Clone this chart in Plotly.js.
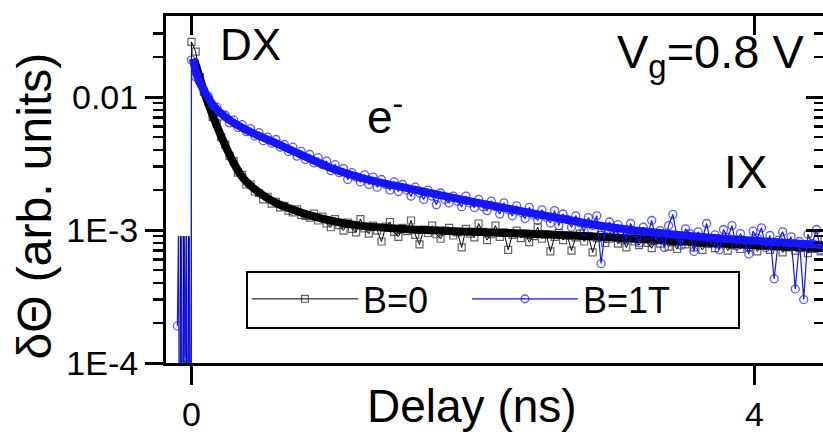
<!DOCTYPE html>
<html>
<head>
<meta charset="utf-8">
<script src="https://cdn.plot.ly/plotly-3.0.1.min.js"></script>
<style>
html,body{margin:0;padding:0;overflow:hidden;background:#fff;width:823px;height:439px;}
#chart{width:840px;height:439px;}
</style>
</head>
<body>
<div id="chart"></div>
<script>
// ---------- data (delay in ns, signal in arb. units) ----------
const delay = [
0,0.03,0.06,0.09,0.12,0.15,0.18,0.21,0.24,0.27,
0.3,0.33,0.36,0.39,0.42,0.45,0.48,0.51,0.54,0.57,
0.6,0.63,0.66,0.69,0.72,0.75,0.78,0.81,0.84,0.87,
0.9,0.93,0.96,0.99,1.02,1.05,1.08,1.11,1.14,1.17,
1.2,1.23,1.26,1.29,1.32,1.35,1.38,1.41,1.44,1.47,
1.5,1.53,1.56,1.59,1.62,1.65,1.68,1.71,1.74,1.77,
1.8,1.83,1.86,1.89,1.92,1.95,1.98,2.01,2.04,2.07,
2.1,2.13,2.16,2.19,2.22,2.25,2.28,2.31,2.34,2.37,
2.4,2.43,2.46,2.49,2.52,2.55,2.58,2.61,2.64,2.67,
2.7,2.73,2.76,2.79,2.82,2.85,2.88,2.91,2.94,2.97,
3.0,3.03,3.06,3.09,3.12,3.15,3.18,3.21,3.24,3.27,
3.3,3.33,3.36,3.39,3.42,3.45,3.48,3.51,3.54,3.57,
3.6,3.63,3.66,3.69,3.72,3.75,3.78,3.81,3.84,3.87,
3.9,3.93,3.96,3.99,4.02,4.05,4.08,4.11,4.14,4.17,
4.2,4.23,4.26,4.29,4.32,4.35,4.38,4.41,4.44,4.47,
4.5];

const signalB0 = [
0.026,0.022,0.0142,0.0110,0.0092,0.0071,0.0063,0.0050,0.0044,0.0036,
0.0033,0.0027,0.0026,0.0022,0.0022,0.00195,0.0019,0.0017,0.00178,0.00158,
0.00163,0.00148,0.00152,0.0014,0.00136,0.00143,0.0013,0.00128,0.00124,0.00133,
0.00118,0.00126,0.00112,0.00105,0.00121,0.00109,0.00099,0.00114,0.00102,0.00096,
0.00121,0.00103,0.00094,0.00108,0.00099,0.00082,0.00106,0.00115,0.00097,0.00089,
0.00104,0.00098,0.00118,0.00092,0.00078,0.00101,0.00095,0.00108,0.00093,0.00086,
0.00099,0.00104,0.00091,0.00096,0.00074,0.00102,0.00094,0.00088,0.00112,0.00097,
0.00084,0.00093,0.00108,0.00089,0.00096,0.00071,0.00092,0.00099,0.00087,0.00094,
0.00081,0.00090,0.00105,0.00086,0.00093,0.00069,0.00089,0.00095,0.00084,0.00091,
0.00070,0.00088,0.00094,0.00082,0.00090,0.00068,0.00087,0.00092,0.00080,0.00086,
0.00091,0.00079,0.00085,0.00074,0.00088,0.00082,0.00077,0.00086,0.00080,0.00073,
0.00084,0.00079,0.00087,0.00075,0.00081,0.00072,0.00083,0.00078,0.00085,0.00074,
0.00080,0.00071,0.00079,0.00084,0.00073,0.00078,0.00082,0.00070,0.00077,0.00081,
0.00072,0.00079,0.00074,0.00080,0.00069,0.00076,0.00079,0.00071,0.00075,0.00078,
0.00068,0.00074,0.00077,0.00070,0.00073,0.00076,0.00067,0.00072,0.00075,0.00069,
0.00073];

const signalB1 = [
0.0190,0.0142,0.0131,0.0108,0.0101,0.0086,0.0084,0.0072,0.0073,0.0064,
0.0067,0.0059,0.0062,0.0055,0.0058,0.0051,0.0054,0.0047,0.0050,0.0045,
0.0048,0.0042,0.0044,0.0039,0.0042,0.0036,0.0039,0.0034,0.0037,0.0032,
0.0035,0.0031,0.0033,0.0028,0.0031,0.0027,0.0029,0.0024,0.0027,0.0025,
0.0023,0.0026,0.0022,0.0025,0.0021,0.0024,0.0022,0.0020,0.0023,0.00195,
0.0022,0.0020,0.0018,0.0021,0.0019,0.0017,0.0020,0.0018,0.00155,0.0019,
0.0017,0.0016,0.0018,0.00165,0.0015,0.0018,0.0016,0.00148,0.0017,0.0015,
0.0014,0.00165,0.0015,0.00132,0.0016,0.00142,0.00128,0.00152,0.00136,0.00122,
0.00148,0.0013,0.00118,0.00142,0.00125,0.00113,0.0014,0.00108,0.00132,0.0012,
0.00105,0.00128,0.00113,0.00098,0.00124,0.00108,0.00128,0.00056,0.00102,0.00115,
0.00093,0.0011,0.00098,0.00086,0.00112,0.00095,0.0008,0.00105,0.00091,0.00118,
0.00084,0.00099,0.00074,0.00108,0.00131,0.00089,0.00077,0.00102,0.00094,0.00069,
0.00097,0.00086,0.00112,0.00079,0.00092,0.00071,0.00101,0.00088,0.00108,0.00076,
0.00094,0.00083,0.00066,0.00098,0.00087,0.00104,0.00074,0.00091,0.00043,0.00084,
0.00097,0.00078,0.00089,0.00036,0.00082,0.00030,0.00093,0.00079,0.00101,0.00071,
0.00085];

// negative-delay points (values far below 1E-4 fall off the axis)
const preDelayB0 = [-0.086,-0.079,-0.065,-0.058,-0.044,-0.037,-0.029,-0.022,-0.008,-0.002];
const preSignalB0 = [1e-6,9e-4,1e-6,9e-4,1e-6,9e-4,1e-6,9e-4,1e-6,1e-6];
const preDelayB1 = [-0.100,-0.093,-0.079,-0.072,-0.058,-0.051,-0.043,-0.036,-0.022,-0.015,-0.004];
const preSignalB1 = [1.9e-4,9e-4,1e-6,9e-4,1e-6,9e-4,1.1e-4,9e-4,1e-6,9e-4,1e-6];

// fit curves
const fitDelayB0 = [0.02,0.05,0.1,0.15,0.2,0.25,0.3,0.35,0.4,0.5,0.6,0.7,0.8,1.0,1.2,1.5,2.0,2.5,3.0,3.5,4.0,4.5];
const fitB0 = [0.019,0.0150,0.0102,0.0073,0.0054,0.0041,0.0032,0.0026,0.00225,0.00185,0.0016,0.00145,0.00133,0.00117,0.00108,0.00102,0.00097,0.00093,0.00088,0.00082,0.00077,0.00073];
const fitDelayB1 = [0.01,0.05,0.1,0.15,0.2,0.3,0.4,0.5,0.6,0.8,1.0,1.25,1.5,2.0,2.5,3.0,3.5,4.0,4.5];
const fitB1 = [0.0195,0.0135,0.0107,0.0088,0.0077,0.0064,0.0056,0.0050,0.0045,0.0036,0.0029,0.0024,0.0021,0.00163,0.00129,0.00104,0.00091,0.00083,0.00077];

const seriesNames = ['B=0','B=1T'];
const yTickVals = [1e-4,1e-3,1e-2];
const yTickText = ['1E-4','1E-3','0.01'];
const yMinorVals = [2e-4,3e-4,4e-4,5e-4,6e-4,7e-4,8e-4,9e-4,2e-3,3e-3,4e-3,5e-3,6e-3,7e-3,8e-3,9e-3,0.02,0.03];
const xTickVals = [0,4];
const xTickText = ['0','4'];

// ---------- plot ----------
const xB0 = preDelayB0.concat(delay), yB0 = preSignalB0.concat(signalB0);
const xB1 = preDelayB1.concat(delay), yB1 = preSignalB1.concat(signalB1);
const sizeB0 = xB0.map((t,i)=> (t<0 && yB0[i]>5e-4) ? 0 : 7);
const sizeB1 = xB1.map((t,i)=> (t<0 && yB1[i]>5e-4) ? 0 : 8);

const BLUE = 'rgb(20,20,255)';
const FONT = 'Liberation Sans, Arial, Helvetica, sans-serif';
const XR = [-0.181, 4.494];
const YR = [-4, -1.39];

const traces = [
  {x:xB0, y:yB0, name:seriesNames[0], mode:'lines+markers',
   line:{color:'black', width:1},
   marker:{symbol:'square-open', size:sizeB0, color:'#222', line:{width:1.2, color:'#222'}}},
  {x:fitDelayB0, y:fitB0, mode:'lines', showlegend:false, line:{color:'black', width:8, shape:'spline'}, hoverinfo:'skip'},
  {x:xB1, y:yB1, name:seriesNames[1], mode:'lines+markers',
   line:{color:BLUE, width:1.2},
   marker:{symbol:'circle-open', size:sizeB1, color:BLUE, line:{width:1.3, color:BLUE}}},
  {x:fitDelayB1, y:fitB1, mode:'lines', showlegend:false, line:{color:BLUE, width:8, shape:'spline'}, hoverinfo:'skip'},
  {x:[], y:[], xaxis:'x2', yaxis:'y2', showlegend:false, hoverinfo:'skip'}
];

const axCommon = {showgrid:false, zeroline:false, showline:true, linewidth:3, linecolor:'black',
  tickcolor:'black', tickwidth:3};

const layout = {
  width:840, height:439,
  margin:{l:166, r:16, t:16, b:76},
  paper_bgcolor:'white', plot_bgcolor:'white',
  font:{family:FONT, color:'black'},
  showlegend:true,
  xaxis:Object.assign({}, axCommon, {range:XR, ticks:'outside', ticklen:19,
    tickmode:'array', tickvals:xTickVals, ticktext:xTickText,
    tickfont:{size:34, family:FONT, color:'black'}, ticklabelstandoff:0}),
  yaxis:Object.assign({}, axCommon, {type:'log', range:YR, ticks:'outside', ticklen:18,
    tickmode:'array', tickvals:yTickVals, ticktext:yTickText,
    tickfont:{size:34, family:FONT, color:'black'},
    minor:{tickmode:'array', tickvals:yMinorVals, ticks:'outside', ticklen:10, tickwidth:2.5, tickcolor:'black', showgrid:false}}),
  xaxis2:Object.assign({}, axCommon, {overlaying:'x', side:'top', range:XR, ticks:'inside', ticklen:19,
    tickmode:'array', tickvals:xTickVals, showticklabels:false}),
  yaxis2:Object.assign({}, axCommon, {overlaying:'y', side:'right', type:'log', range:YR, ticks:'inside', ticklen:18,
    tickmode:'array', tickvals:yTickVals, showticklabels:false,
    minor:{tickmode:'array', tickvals:yMinorVals, ticks:'inside', ticklen:10, tickwidth:2.5, tickcolor:'black', showgrid:false}}),
  legend:{x:0.123, y:0.271, xanchor:'left', yanchor:'top', orientation:'h',
    bgcolor:'rgba(0,0,0,0)', bordercolor:'rgba(0,0,0,0)', borderwidth:0,
    font:{size:36, family:FONT, color:'black'}, itemwidth:106,
    entrywidth:99, entrywidthmode:'pixels'},
  shapes:[
    // legend frame
    {type:'rect', xref:'paper', yref:'paper', x0:0.1231, x1:0.8708, y0:0.1009, y1:0.2622,
     line:{color:'black', width:2}, fillcolor:'white', layer:'above'}
  ],
  annotations:[
    {text:'Delay (ns)', xref:'paper', yref:'paper', x:0.465, y:-0.124, xanchor:'center', yanchor:'middle', showarrow:false, font:{size:46}},
    {text:'δΘ (arb. units)', xref:'paper', yref:'paper', x:-0.2, y:0.452, xanchor:'center', yanchor:'middle', textangle:-90, showarrow:false, font:{size:48}},
    {text:'DX', xref:'paper', yref:'paper', x:0.129, y:0.919, xanchor:'center', yanchor:'middle', showarrow:false, font:{size:44}},
    {text:'e<sup>-</sup>', xref:'paper', yref:'paper', x:0.302, y:0.718, xanchor:'left', yanchor:'middle', showarrow:false, font:{size:46}},
    {text:'V<sub>g</sub>=0.8 V', xref:'paper', yref:'paper', x:0.682, y:0.888, xanchor:'left', yanchor:'middle', showarrow:false, font:{size:47}},
    {text:'IX', xref:'paper', yref:'paper', x:0.880, y:0.55, xanchor:'center', yanchor:'middle', showarrow:false, font:{size:46}}
  ]
};

Plotly.newPlot('chart', traces, layout, {displayModeBar:false, staticPlot:true});
</script>
</body>
</html>
